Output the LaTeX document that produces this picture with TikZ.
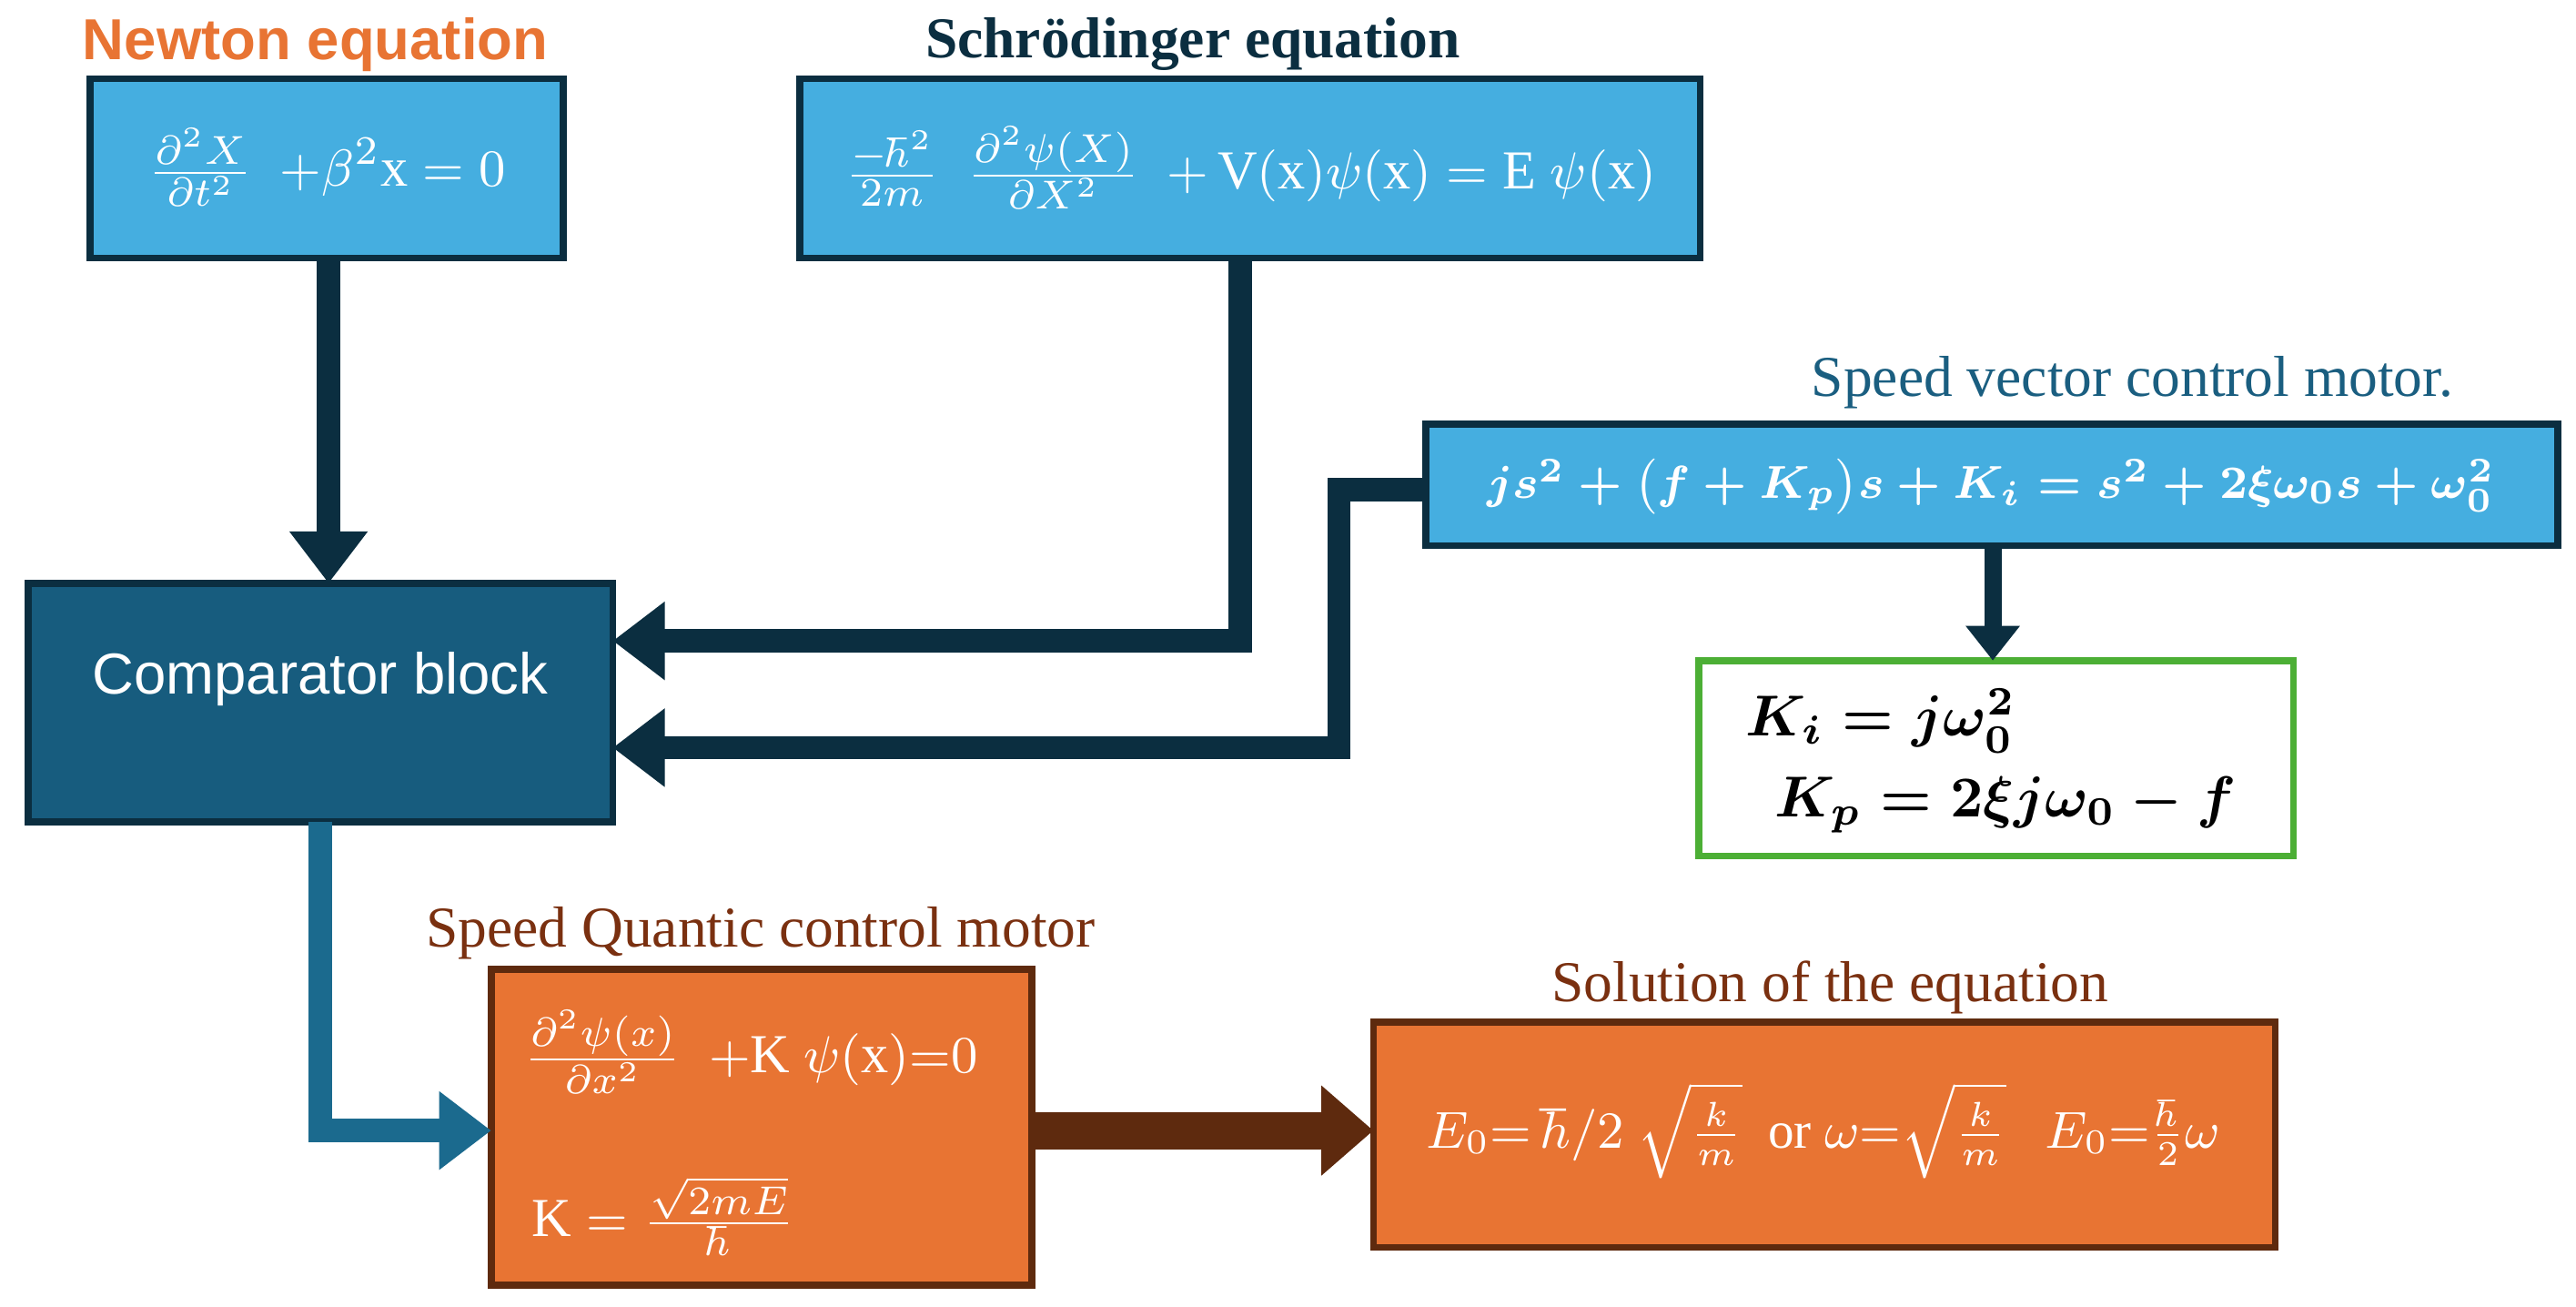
\documentclass[tikz,border=0pt]{standalone}
\usepackage{amsmath}
\usepackage{fontspec}
\setmainfont{Liberation Serif}
\newfontfamily\sansf{Liberation Sans}
\usetikzlibrary{arrows.meta}
\definecolor{lblue}{HTML}{45AEE0}
\definecolor{navy}{HTML}{0B2E40}
\definecolor{comp}{HTML}{175C7E}
\definecolor{midb}{HTML}{1B6A8E}
\definecolor{orng}{HTML}{E87433}
\definecolor{brwn}{HTML}{5E2A0E}
\definecolor{titbrown}{HTML}{7A3010}
\definecolor{teal}{HTML}{1A5E80}
\definecolor{grn}{HTML}{4CAF35}
\begin{document}
\begin{tikzpicture}[x=0.01cm,y=-0.01cm,
  bbox/.style={draw=navy,line width=1.2pt,fill=lblue,text=white,inner sep=0pt},
  obox/.style={draw=brwn,line width=1.2pt,fill=orng,text=white,inner sep=0pt},
  arr/.style={line width=4pt,draw=navy,-{Triangle[length=9pt,width=13pt]}},
  ttl/.style={font=\fontsize{10}{12}\selectfont}]
\useasboundingbox (0,0) rectangle (1568,795);
\fontsize{10}{12}\selectfont
% titles
\node[ttl,font=\sansf\bfseries\fontsize{10}{12}\selectfont,text=orng] (t1) at (192,27) {Newton equation};
\node[ttl,font=\bfseries\fontsize{10}{12}\selectfont,text=navy] (t2) at (726,27) {Schrödinger equation};
\node[ttl,text=teal] (t3) at (1298,233) {Speed vector control motor.};
\node[ttl,text=titbrown] (t4) at (463,568) {Speed Quantic control motor};
\node[ttl,text=titbrown] (t5) at (1114,601) {Solution of the equation};
% boxes
\draw[bbox] (55,48) rectangle (343,157);
\node[text=white,font=\fontsize{9.5}{11}\selectfont] (b1) at (199,102) {$\frac{\partial^2 X}{\partial t^2}$\ \ $+\beta^2\mathrm{x}=0$};
\coordinate (b1s) at (200,157);
\draw[bbox] (487,48) rectangle (1035,157);
\node[text=white,font=\fontsize{9.5}{11}\selectfont] (b2) at (761,102) {$\frac{-\hbar^2}{2m}$\ \ $\frac{\partial^2\psi(X)}{\partial X^2}$\ \ $+\,\mathrm{V(x)}\psi(\mathrm{x})=\mathrm{E}\ \psi(\mathrm{x})$};
\draw[bbox] (868,258) rectangle (1557,332);
\node[text=white,font=\fontsize{8.3}{10}\selectfont] (b3) at (1212,296) {$\boldsymbol{js^2+\bigl(f+K_p\bigr)s+K_i=s^2+2\xi\omega_0 s+\omega_0^2}$};
\draw[draw=grn,line width=1.2pt,fill=white] (1034,402) rectangle (1396,521);
\node[align=left] (g) at (1212,463) {$\boldsymbol{K_i=j\omega_0^2}$\\[2pt]\ \ $\boldsymbol{K_p=2\xi j\omega_0-f}$};
\draw[draw=navy,line width=1.2pt,fill=comp] (17,355) rectangle (373,500);
\node[text=white,font=\sansf\fontsize{10}{12}\selectfont] (cb) at (195,413) {Comparator block};
\draw[obox] (299,590) rectangle (628,782);
\node[text=white,font=\fontsize{9.5}{11}\selectfont] (o1) at (457,640) {$\frac{\partial^2\psi(x)}{\partial x^2}$\ \ $+\mathrm{K}\ \psi(\mathrm{x})\mathrm{=}0$};
\node[text=white,font=\fontsize{9.5}{11}\selectfont] (o2) at (404,740) {$\mathrm{K}=\frac{\sqrt{2mE}}{\hbar}$};
\draw[obox] (836,622) rectangle (1385,759);
\node[text=white,font=\fontsize{9}{11}\selectfont] (o3) at (1110,688) {$E_0\mathrm{=}\,\hbar/2\ \sqrt{\frac{k}{m}}$\ \ or $\omega\mathrm{=}\sqrt{\frac{k}{m}}$\ \ \ $E_0\mathrm{=}\frac{\hbar}{2}\omega$};
% named anchors
\coordinate (b2s) at (755,157);
\coordinate (b3w) at (868,298);
\coordinate (b3s) at (1213,332);
\coordinate (gn) at (1213,402);
\coordinate (cbn) at (200,355);
\coordinate (cbe1) at (373,390);
\coordinate (cbe2) at (373,455);
\coordinate (cbs) at (195,500);
\coordinate (o1w) at (299,688);
\coordinate (o1e) at (628,688);
\coordinate (o3w) at (836,688);
% arrows
\draw[arr] (b1s) -- (cbn);
\draw[arr] (b2s) |- (cbe1);
\draw[arr] (b3w) -- (815,298) |- (cbe2);
\draw[line width=3pt,draw=navy,-{Triangle[length=6pt,width=9pt]}] (b3s) -- (gn);
\draw[arr,draw=midb] (cbs) |- (o1w);
\draw[line width=6.5pt,draw=brwn,-{Triangle[length=9pt,width=15pt]}] (o1e) -- (o3w);
\end{tikzpicture}
\end{document}
